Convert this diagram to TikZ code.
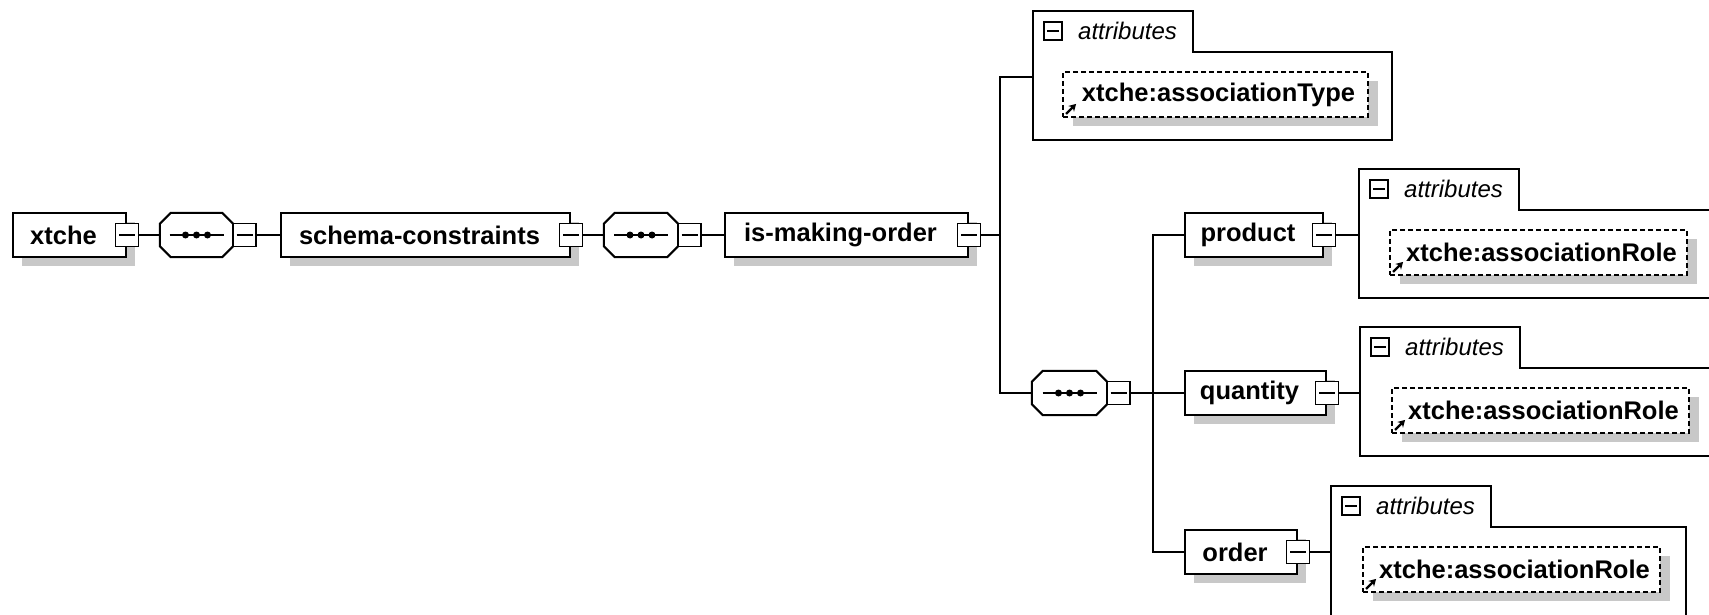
\documentclass[tikz,border=0pt]{standalone}
\usepackage{fontspec}
\setmainfont{Liberation Sans}
\usetikzlibrary{shadows,arrows.meta}
\definecolor{shadowgray}{RGB}{200,200,200}
\tikzset{
  conn/.style={line width=2pt},
  shd/.style={drop shadow={shadow xshift=9pt,shadow yshift=-9pt,fill=shadowgray,opacity=1}},
  elem/.style={draw,line width=2pt,fill=white,shd,minimum height=44pt,inner sep=0pt,
    font=\fontsize{25.5}{30}\selectfont\bfseries},
  tog/.style={draw,line width=1.6pt,fill=white,minimum size=23pt,inner sep=0pt,
    path picture={\draw[black,line width=1.6pt] ([xshift=-8pt]path picture bounding box.center) -- ([xshift=8pt]path picture bounding box.center);}},
  seqbox/.style={rectangle,minimum height=44pt,inner sep=0pt},
  octline/.style={line width=2pt,fill=white},
  attbox/.style={draw,dash pattern=on 5pt off 3pt,line width=1.8pt,fill=white,
    drop shadow={shadow xshift=10pt,shadow yshift=-9pt,fill=shadowgray,opacity=1},
    minimum height=45pt,inner sep=0pt,font=\fontsize{25.5}{30}\selectfont\bfseries},
  container/.style={line width=2pt},
  ticon/.style={draw,line width=1.5pt,fill=white,minimum size=18pt,inner sep=0pt,
    path picture={\draw[black,line width=1.5pt] ([xshift=-6pt]path picture bounding box.center) -- ([xshift=6pt]path picture bounding box.center);}},
  attlabel/.style={anchor=west,inner sep=0pt,font=\fontsize{24}{28}\selectfont\itshape},
  refarrow/.style={line width=2.4pt,-{Stealth[length=7pt,width=8pt]}}
}
% octagon (sequence compositor) drawn around a named rectangle node
\newcommand\seqoct[1]{%
  \fill[shadowgray,shift={(9pt,-9pt)}]
    ([xshift=11pt]#1.north west) -- ([xshift=-11pt]#1.north east) -- ([yshift=-11pt]#1.north east)
    -- ([yshift=11pt]#1.south east) -- ([xshift=-11pt]#1.south east) -- ([xshift=11pt]#1.south west)
    -- ([yshift=11pt]#1.south west) -- ([yshift=-11pt]#1.north west) -- cycle;
  \draw[octline]
    ([xshift=11pt]#1.north west) -- ([xshift=-11pt]#1.north east) -- ([yshift=-11pt]#1.north east)
    -- ([yshift=11pt]#1.south east) -- ([xshift=-11pt]#1.south east) -- ([xshift=11pt]#1.south west)
    -- ([yshift=11pt]#1.south west) -- ([yshift=-11pt]#1.north west) -- cycle;
  \draw[line width=1.6pt] ([xshift=-27pt]#1.center) -- ([xshift=27pt]#1.center);
  \fill[black] ([xshift=-11pt]#1.center) circle (3.5pt);
  \fill[black] (#1.center) circle (3.5pt);
  \fill[black] ([xshift=11pt]#1.center) circle (3.5pt);}
\begin{document}
\begin{tikzpicture}[x=1pt,y=-1pt]
\useasboundingbox (0,0) rectangle (1709,615);
\clip (0,0) rectangle (1709,615);
\fill[white] (0,0) rectangle (1709,615);

% ---- attribute containers ----
% A0 (is-making-order)
\draw[container] (1033,140) -- (1033,11) -- (1193,11) -- (1193,52) -- (1392,52) -- (1392,140) -- cycle;
\node[ticon] (i0) at (1053,31) {};
\node[attlabel] (t0) at (1078,31) {attributes};
\coordinate (a0) at (1033,77);
\node[attbox,minimum width=305pt] (d0) at (1215.5,94.5) {\hspace*{6pt}xtche:associationType};
\draw[refarrow] ([xshift=4pt,yshift=4pt]d0.south west) -- ++(10pt,10pt);

% A1 (product)
\draw[container] (1359,298) -- (1359,169) -- (1519,169) -- (1519,210) -- (1716,210) -- (1716,298) -- cycle;
\node[ticon] (i1) at (1379,189) {};
\node[attlabel] (t1) at (1404,189) {attributes};
\coordinate (a1) at (1359,235);
\node[attbox,minimum width=297pt] (d1) at (1538.5,252.5) {\hspace*{6pt}xtche:associationRole};
\draw[refarrow] ([xshift=4pt,yshift=4pt]d1.south west) -- ++(10pt,10pt);

% A2 (quantity)
\draw[container] (1360,456) -- (1360,327) -- (1520,327) -- (1520,368) -- (1716,368) -- (1716,456) -- cycle;
\node[ticon] (i2) at (1380,347) {};
\node[attlabel] (t2) at (1405,347) {attributes};
\coordinate (a2) at (1360,393);
\node[attbox,minimum width=297pt] (d2) at (1540.5,410.5) {\hspace*{6pt}xtche:associationRole};
\draw[refarrow] ([xshift=4pt,yshift=4pt]d2.south west) -- ++(10pt,10pt);

% A3 (order)
\draw[container] (1331,625) -- (1331,486) -- (1491,486) -- (1491,527) -- (1686,527) -- (1686,625);
\node[ticon] (i3) at (1351,506) {};
\node[attlabel] (t3) at (1376,506) {attributes};
\coordinate (a3) at (1331,552);
\node[attbox,minimum width=297pt] (d3) at (1511.5,569.5) {\hspace*{6pt}xtche:associationRole};
\draw[refarrow] ([xshift=4pt,yshift=4pt]d3.south west) -- ++(10pt,10pt);

% ---- main chain ----
\node[elem,minimum width=113pt] (xtche) at (69.5,235) {xtche\hspace*{12pt}};
\node[tog] (xtcheT) at (xtche.east) {};
\node[seqbox,minimum width=73pt] (seq1) at (196.5,235) {};
\seqoct{seq1}
\node[tog] (seq1T) at ([xshift=11.5pt]seq1.east) {};
\node[elem,minimum width=289pt] (schema) at (425.5,235) {schema-constraints\hspace*{12pt}};
\node[tog] (schemaT) at (schema.east) {};
\node[seqbox,minimum width=74pt] (seq2) at (641,235) {};
\seqoct{seq2}
\node[tog] (seq2T) at ([xshift=11.5pt]seq2.east) {};
\node[elem,minimum width=243pt] (imo) at (846.5,235) {is-making-order\hspace*{12pt}};
\node[tog] (imoT) at (imo.east) {};
\coordinate (j1) at (1000,235);
\node[seqbox,minimum width=75pt] (seq3) at (1069.5,393) {};
\seqoct{seq3}
\node[tog] (seq3T) at ([xshift=11.5pt]seq3.east) {};
\coordinate (j2) at (1153,393);
\node[elem,minimum width=138pt] (product) at (1254,235) {product\hspace*{12pt}};
\node[tog] (productT) at (product.east) {};
\node[elem,minimum width=141pt] (quantity) at (1255.5,393) {quantity\hspace*{12pt}};
\node[tog] (quantityT) at (quantity.east) {};
\node[elem,minimum width=112pt] (order) at (1241,552) {order\hspace*{12pt}};
\node[tog] (orderT) at (order.east) {};

% ---- connectors ----
\draw[conn] (xtcheT.east) -- (seq1.west);
\draw[conn] (seq1T.east) -- (schema.west);
\draw[conn] (schemaT.east) -- (seq2.west);
\draw[conn] (seq2T.east) -- (imo.west);
\draw[conn] (imoT.east) -- (j1);
\draw[conn] (a0) -| (j1) |- (seq3.west);
\draw[conn] (seq3T.east) -- (j2);
\draw[conn] (product.west) -| (j2) |- (order.west);
\draw[conn] (j2) -- (quantity.west);
\draw[conn] (productT.east) -- (a1);
\draw[conn] (quantityT.east) -- (a2);
\draw[conn] (orderT.east) -- (a3);
\end{tikzpicture}
\end{document}
